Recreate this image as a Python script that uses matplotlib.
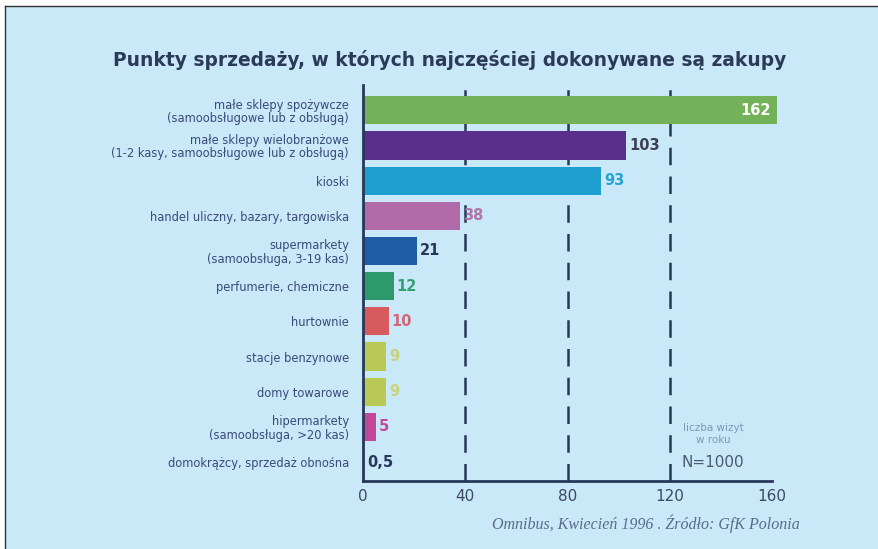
"""
Punkty sprzedazy - horizontal bar chart (GfK Polonia, 1996).
"""
import matplotlib
matplotlib.use("Agg")
import matplotlib.pyplot as plt
from matplotlib.lines import Line2D

# data
categories = [
    "małe sklepy spożywcze\n(samoobsługowe lub z obsługą)",
    "małe sklepy wielobranżowe\n(1-2 kasy, samoobsługowe lub z obsługą)",
    "kioski",
    "handel uliczny, bazary, targowiska",
    "supermarkety\n(samoobsługa, 3-19 kas)",
    "perfumerie, chemiczne",
    "hurtownie",
    "stacje benzynowe",
    "domy towarowe",
    "hipermarkety\n(samoobsługa, >20 kas)",
    "domokrążcy, sprzedaż obnośna",
]
values = [162, 103, 93, 38, 21, 12, 10, 9, 9, 5, 0.5]
value_labels = ["162", "103", "93", "38", "21", "12", "10", "9", "9", "5", "0,5"]
x_ticks = [0, 40, 80, 120, 160]

bar_colors = ["#74b25a", "#5a2f8c", "#1f9fd0", "#b06aa8", "#1f5ea6",
              "#2e9a6c", "#d65a5e", "#b9c957", "#b9c957", "#c4489a", "#2b3d5e"]
label_colors = ["white", "#3f3f55", "#2aa3d2", "#b274aa", "#27385a",
                "#35a073", "#d0687a", "#c9d27a", "#c9d27a", "#c4489a", "#27385a"]

BG = "#c9e8f8"
NAVY = "#27385a"

fig = plt.figure(figsize=(8.79, 5.49), dpi=100)
fig.patch.set_facecolor("white")

# light blue panel with dark top/left border
panel = plt.Rectangle((5 / 879, 0), 1 - 5 / 879, 1 - 6 / 549, transform=fig.transFigure,
                      facecolor=BG, edgecolor="none", zorder=-10)
fig.add_artist(panel)
fig.add_artist(Line2D([5 / 879, 5 / 879], [0, 1 - 6 / 549], transform=fig.transFigure,
                      color="#333333", lw=1, zorder=-5))
fig.add_artist(Line2D([5 / 879, 1], [1 - 6 / 549, 1 - 6 / 549], transform=fig.transFigure,
                      color="#333333", lw=1, zorder=-5))

ax = fig.add_axes([363 / 879, 1 - 481 / 549, 409 / 879, 396 / 549])
ax.set_facecolor("none")

y = list(range(len(categories)))
bars = ax.barh(y, values, height=0.8, color=bar_colors, zorder=2)
for b in bars:
    b.set_clip_on(False)

for i, (v, lab, c) in enumerate(zip(values, value_labels, label_colors)):
    if i == 0:
        ax.text(v - 2.5, i, lab, ha="right", va="center", color=c,
                fontsize=10.5, fontweight="bold", zorder=4)
    else:
        ax.text(v + 1.2, i, lab, ha="left", va="center", color=c,
                fontsize=10.5, fontweight="bold", zorder=4)

# dashed reference lines
for xv in x_ticks[1:4]:
    ax.axvline(xv, color=NAVY, lw=1.8, ls=(0, (7, 4.5)), zorder=1)

ax.set_xlim(0, 160)
ax.set_ylim(len(categories) - 1 + 0.54, -0.72)
ax.set_xticks(x_ticks)
ax.set_xticklabels([str(t) for t in x_ticks], fontsize=11, color="#3a4a62")
ax.tick_params(axis="x", length=0, pad=6)
ax.set_yticks(y)
ax.set_yticklabels(categories, fontsize=8.3, color="#3a4a7a", linespacing=1.05)
ax.tick_params(axis="y", length=0, pad=10)

for side in ["top", "right"]:
    ax.spines[side].set_visible(False)
ax.spines["left"].set_color(NAVY)
ax.spines["left"].set_linewidth(2)
ax.spines["bottom"].set_color(NAVY)
ax.spines["bottom"].set_linewidth(2)
ax.spines["bottom"].set_zorder(3)
ax.spines["left"].set_zorder(3)

# note inside the chart
ax.text(137, 9.2, "liczba wizyt\nw roku", ha="center", va="center",
        fontsize=7.5, color="#7a9ab8", linespacing=1.3)
ax.text(137, 10.0, "N=1000", ha="center", va="center",
        fontsize=11, color="#4a5a72")

fig.text(450 / 879, 1 - 60 / 549, "Punkty sprzedaży, w których najczęściej dokonywane są zakupy",
         ha="center", va="center", fontsize=13.4, fontweight="bold", color="#2b3a58")

fig.text(800 / 879, 1 - 524 / 549, "Omnibus, Kwiecień 1996 . Źródło: GfK Polonia",
         ha="right", va="center", fontsize=11.5, style="italic",
         family="Liberation Serif", color="#5a6b8c")

fig.savefig("out.png", dpi=100, facecolor=fig.get_facecolor())
